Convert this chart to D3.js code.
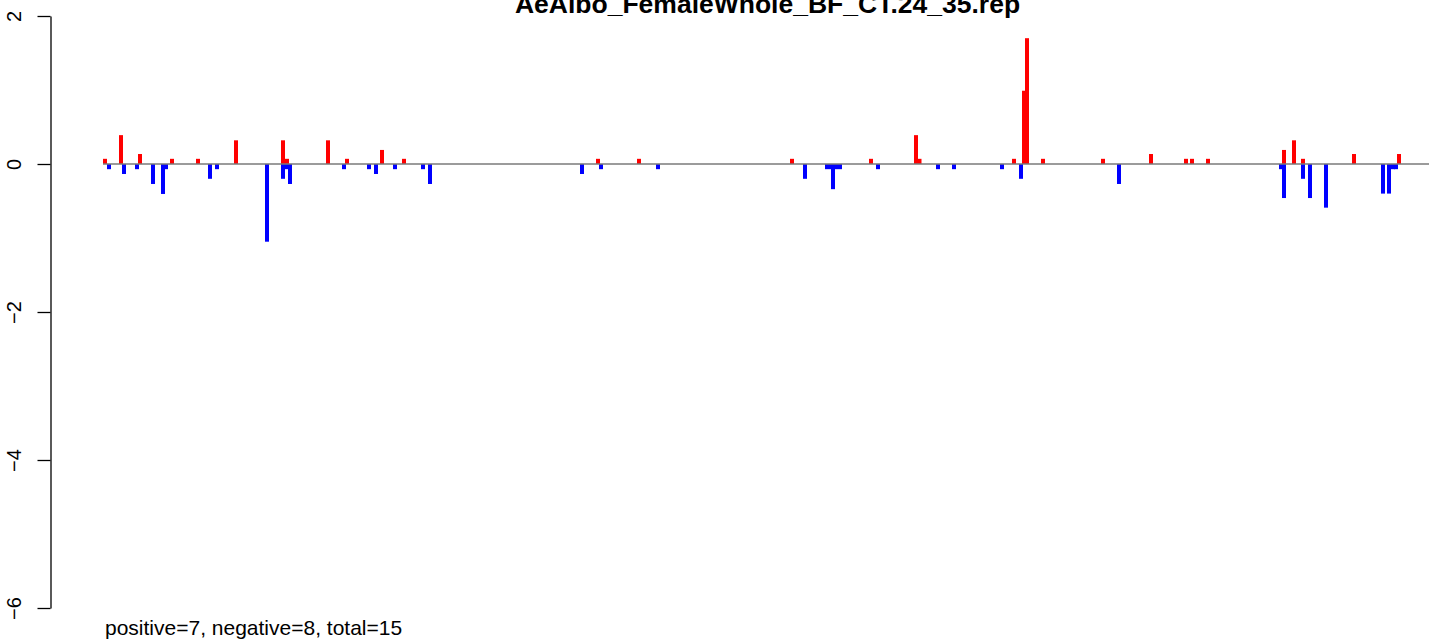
<!DOCTYPE html>
<html>
<head>
<meta charset="utf-8">
<script src="https://cdn.jsdelivr.net/npm/d3@7"></script>
<style>
  html, body { margin: 0; padding: 0; background: #fff; }
  svg { display: block; }
  text { font-family: "Liberation Sans", Arial, Helvetica, sans-serif; }
</style>
</head>
<body>
<div id="chart"></div>
<script>
// ---- data ----
const chartTitle = "AeAlbo_FemaleWhole_BF_CT.24_35.rep";
const footerText = "positive=7, negative=8, total=15";
const yTickValues = [2, 0, -2, -4, -6];
const yTickLabels = ["2", "0", "\u22122", "\u22124", "\u22126"];

// positive (red) bars: position along the sequence, score
const upPositions = [5, 21, 40, 72, 98, 136, 183, 187, 228, 247, 282, 304, 498, 539, 692, 771, 816, 819.5, 914, 924, 927, 943, 1003, 1051, 1086, 1092, 1108, 1184, 1194, 1203, 1254, 1299];
const upValues    = [0.07, 0.39, 0.135, 0.07, 0.07, 0.32, 0.32, 0.07, 0.32, 0.07, 0.19, 0.07, 0.07, 0.07, 0.07, 0.07, 0.39, 0.07, 0.07, 0.99, 1.70, 0.07, 0.07, 0.135, 0.07, 0.07, 0.07, 0.19, 0.32, 0.07, 0.135, 0.135];

// negative (blue) bars
const downPositions = [9, 24, 37, 53, 63, 66, 110, 117, 167, 183, 187, 190, 244, 269, 276, 295, 323, 330, 482, 501, 558, 705, 727, 731, 733, 736, 740, 778, 838, 854, 902, 921, 1019, 1181, 1184, 1203, 1210, 1226, 1283, 1289, 1293, 1296];
const downValues    = [-0.07, -0.135, -0.07, -0.27, -0.405, -0.07, -0.2, -0.07, -1.05, -0.2, -0.07, -0.27, -0.07, -0.07, -0.135, -0.07, -0.07, -0.27, -0.135, -0.07, -0.07, -0.2, -0.07, -0.07, -0.34, -0.07, -0.07, -0.07, -0.07, -0.07, -0.07, -0.2, -0.27, -0.07, -0.46, -0.2, -0.46, -0.59, -0.4, -0.4, -0.07, -0.07];

// ---- drawing ----
const W = 1429, H = 641;
const svg = d3.select("#chart").append("svg").attr("width", W).attr("height", H);

const x = d3.scaleLinear().domain([0, 1329]).range([100, 1429]);
const y = d3.scaleLinear().domain([-6, 2]).range([608, 16]);
const barW = 4;

const up = upPositions.map((p, i) => ({ p, v: upValues[i] }));
const down = downPositions.map((p, i) => ({ p, v: downValues[i] }));

svg.append("g").selectAll("rect").data(down).join("rect")
  .attr("x", d => x(d.p) - barW / 2)
  .attr("y", y(0))
  .attr("width", barW)
  .attr("height", d => y(d.v) - y(0))
  .attr("fill", "#0000FF");

svg.append("g").selectAll("rect").data(up).join("rect")
  .attr("x", d => x(d.p) - barW / 2)
  .attr("y", d => y(d.v))
  .attr("width", barW)
  .attr("height", d => y(0) - y(d.v))
  .attr("fill", "#FF0000");

// zero line
const allPos = upPositions.concat(downPositions);
svg.append("line")
  .attr("x1", x(d3.min(allPos)) - barW / 2).attr("x2", W)
  .attr("y1", y(0)).attr("y2", y(0))
  .attr("stroke", "#7a7a7a").attr("stroke-width", 1.5);

// y axis
const axisG = svg.append("g").attr("transform", "translate(50.5,0)");
const yAxis = d3.axisLeft(y).tickValues(yTickValues).tickSize(13).tickSizeOuter(0)
  .tickFormat((d, i) => yTickLabels[i]);
axisG.call(yAxis);
axisG.select(".domain").attr("stroke", "#000").attr("stroke-width", 1.3);
axisG.selectAll(".tick line").attr("stroke", "#000").attr("stroke-width", 1.3);
axisG.selectAll(".tick text")
  .attr("x", null).attr("dy", null)
  .attr("transform", "translate(-30,0) rotate(-90)")
  .attr("text-anchor", "middle")
  .attr("fill", "#000")
  .style("font-size", "20px")
  .style("font-family", "'Liberation Sans', Arial, Helvetica, sans-serif");

// title
svg.append("text")
  .attr("x", 767.5).attr("y", 12.5)
  .attr("text-anchor", "middle")
  .style("font-weight", "bold")
  .style("font-size", "26.5px")
  .attr("fill", "#000")
  .text(chartTitle);

// footer
svg.append("text")
  .attr("x", 105).attr("y", 635)
  .style("font-size", "21px")
  .attr("fill", "#000")
  .text(footerText);
</script>
</body>
</html>
